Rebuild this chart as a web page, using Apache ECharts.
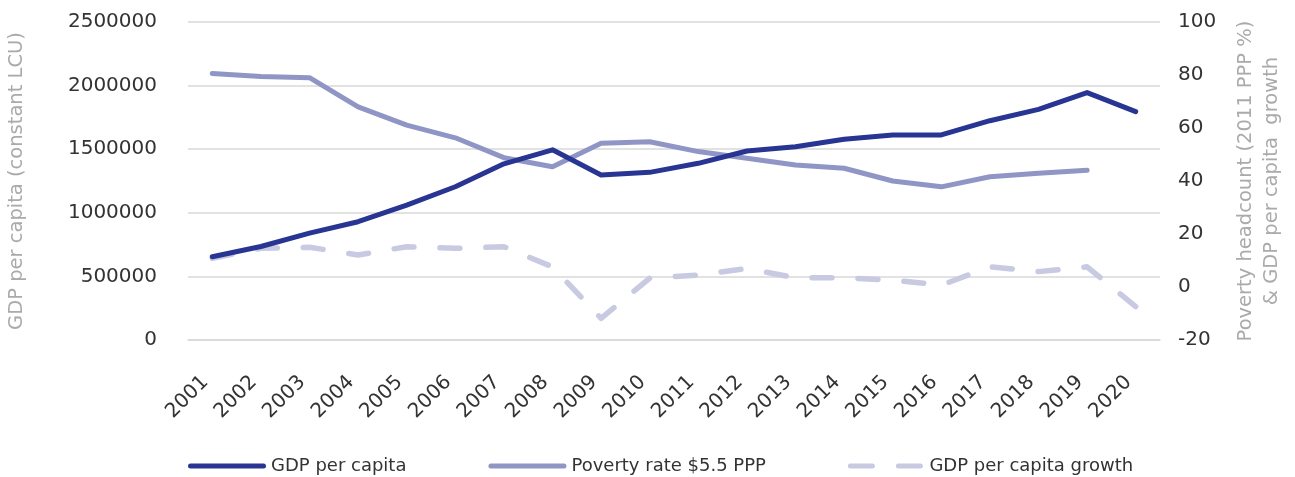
<!DOCTYPE html>
<html>
<head>
<meta charset="utf-8">
<script src="https://cdn.jsdelivr.net/npm/echarts@6/dist/echarts.min.js"></script>
<style>
  html, body { margin: 0; padding: 0; background: #ffffff; }
  #chart { width: 1295px; height: 477px; }
</style>
</head>
<body>
<div id="chart"></div>
<script>
// Years on the category axis
const years = ['2001', '2002', '2003', '2004', '2005', '2006', '2007', '2008', '2009', '2010',
               '2011', '2012', '2013', '2014', '2015', '2016', '2017', '2018', '2019', '2020'];

// GDP per capita, constant LCU (left axis)
const gdpPerCapita = [655000, 735000, 840000, 930000, 1060000, 1205000, 1385000, 1495000, 1297000, 1318000,
                      1389000, 1486000, 1520000, 1578000, 1612000, 1612000, 1724000, 1813000, 1945000, 1795000];

// Poverty headcount at $5.5 a day, 2011 PPP % (right axis); no value for 2020
const povertyRate = [80.6, 79.4, 79.0, 68.0, 61.1, 56.3, 48.8, 45.4, 54.2, 54.8,
                     51.1, 48.6, 46.0, 44.8, 40.0, 37.8, 41.6, 42.9, 44.1, null];

// GDP per capita growth, % (right axis)
const gdpGrowth = [10.8, 14.6, 15.0, 12.1, 15.2, 14.6, 15.2, 7.6, -11.8, 3.3,
                   4.5, 7.0, 3.5, 3.5, 2.6, 0.7, 7.6, 5.8, 7.6, -7.4];

// Axis tick settings
const leftTicks = { min: 0, max: 2500000, interval: 500000 };
const rightTicks = { min: -20, max: 100, interval: 20 };

const FONT = 'DejaVu Sans';

// Legend swatches: a rounded bar for solid lines, two rounded dashes for the dashed one
const solidIcon = 'path://M2.5,0 h73 a2.5,2.5 0 0 1 0,5 h-73 a2.5,2.5 0 0 1 0,-5z';
const dashedIcon = 'path://M2.5,0 h22 a2.5,2.5 0 0 1 0,5 h-22 a2.5,2.5 0 0 1 0,-5z ' +
                   'M50.5,0 h22 a2.5,2.5 0 0 1 0,5 h-22 a2.5,2.5 0 0 1 0,-5z';

const chart = echarts.init(document.getElementById('chart'), null, { renderer: 'canvas' });

chart.setOption({
  backgroundColor: '#ffffff',
  animation: false,
  textStyle: { fontFamily: FONT },
  grid: { left: 188, right: 135, top: 22, bottom: 137, containLabel: false, outerBoundsMode: 'none' },
  legend: {
    top: 452,
    left: 183,
    itemWidth: 78,
    itemHeight: 5,
    itemGap: 82,
    textStyle: { fontFamily: FONT, fontSize: 18, color: '#333333' },
    data: [
      { name: 'GDP per capita', icon: solidIcon },
      { name: 'Poverty rate $5.5 PPP', icon: solidIcon },
      { name: 'GDP per capita growth', icon: dashedIcon }
    ]
  },
  xAxis: {
    type: 'category',
    data: years,
    boundaryGap: true,
    axisLine: { show: true, lineStyle: { color: '#d9d9d9', width: 1.5 } },
    axisTick: { show: false },
    axisLabel: {
      rotate: 45,
      margin: 32,
      interval: 0,
      fontFamily: FONT,
      fontSize: 20,
      color: '#333333',
      padding: [0, 10, 16, 0]
    },
    splitLine: { show: false }
  },
  yAxis: [
    {
      type: 'value',
      position: 'left',
      min: leftTicks.min,
      max: leftTicks.max,
      interval: leftTicks.interval,
      name: 'GDP per capita (constant LCU)',
      nameLocation: 'middle',
      nameGap: 161,
      nameTextStyle: { fontFamily: FONT, fontSize: 19.5, color: '#aaaaaa' },
      axisLine: { show: false },
      axisTick: { show: false },
      axisLabel: {
        margin: 31, fontFamily: FONT, fontSize: 20, color: '#333333',
        formatter: (v) => String(v)
      },
      splitLine: { show: true, lineStyle: { color: '#d9d9d9', width: 1.5 } }
    },
    {
      type: 'value',
      position: 'right',
      min: rightTicks.min,
      max: rightTicks.max,
      interval: rightTicks.interval,
      name: 'Poverty headcount (2011 PPP %)\n& GDP per capita  growth',
      nameLocation: 'middle',
      nameGap: 73,
      nameTextStyle: { fontFamily: FONT, fontSize: 19.5, color: '#aaaaaa', align: 'center', lineHeight: 26 },
      axisLine: { show: false },
      axisTick: { show: false },
      axisLabel: { margin: 18, fontFamily: FONT, fontSize: 20, color: '#333333' },
      splitLine: { show: false }
    }
  ],
  series: [
    {
      name: 'GDP per capita',
      type: 'line',
      yAxisIndex: 0,
      data: gdpPerCapita,
      symbol: 'none',
      color: '#283593',
      lineStyle: { color: '#283593', width: 5, cap: 'round', join: 'round' },
      z: 3
    },
    {
      name: 'Poverty rate $5.5 PPP',
      type: 'line',
      yAxisIndex: 1,
      data: povertyRate,
      symbol: 'none',
      color: '#8f96c6',
      lineStyle: { color: '#8f96c6', width: 5, cap: 'round', join: 'round' },
      z: 2
    },
    {
      name: 'GDP per capita growth',
      type: 'line',
      yAxisIndex: 1,
      data: gdpGrowth,
      symbol: 'none',
      color: '#c8cae2',
      lineStyle: { color: '#c8cae2', width: 5.5, type: [20, 26], cap: 'round', join: 'round' },
      z: 1
    }
  ]
});
</script>
</body>
</html>
